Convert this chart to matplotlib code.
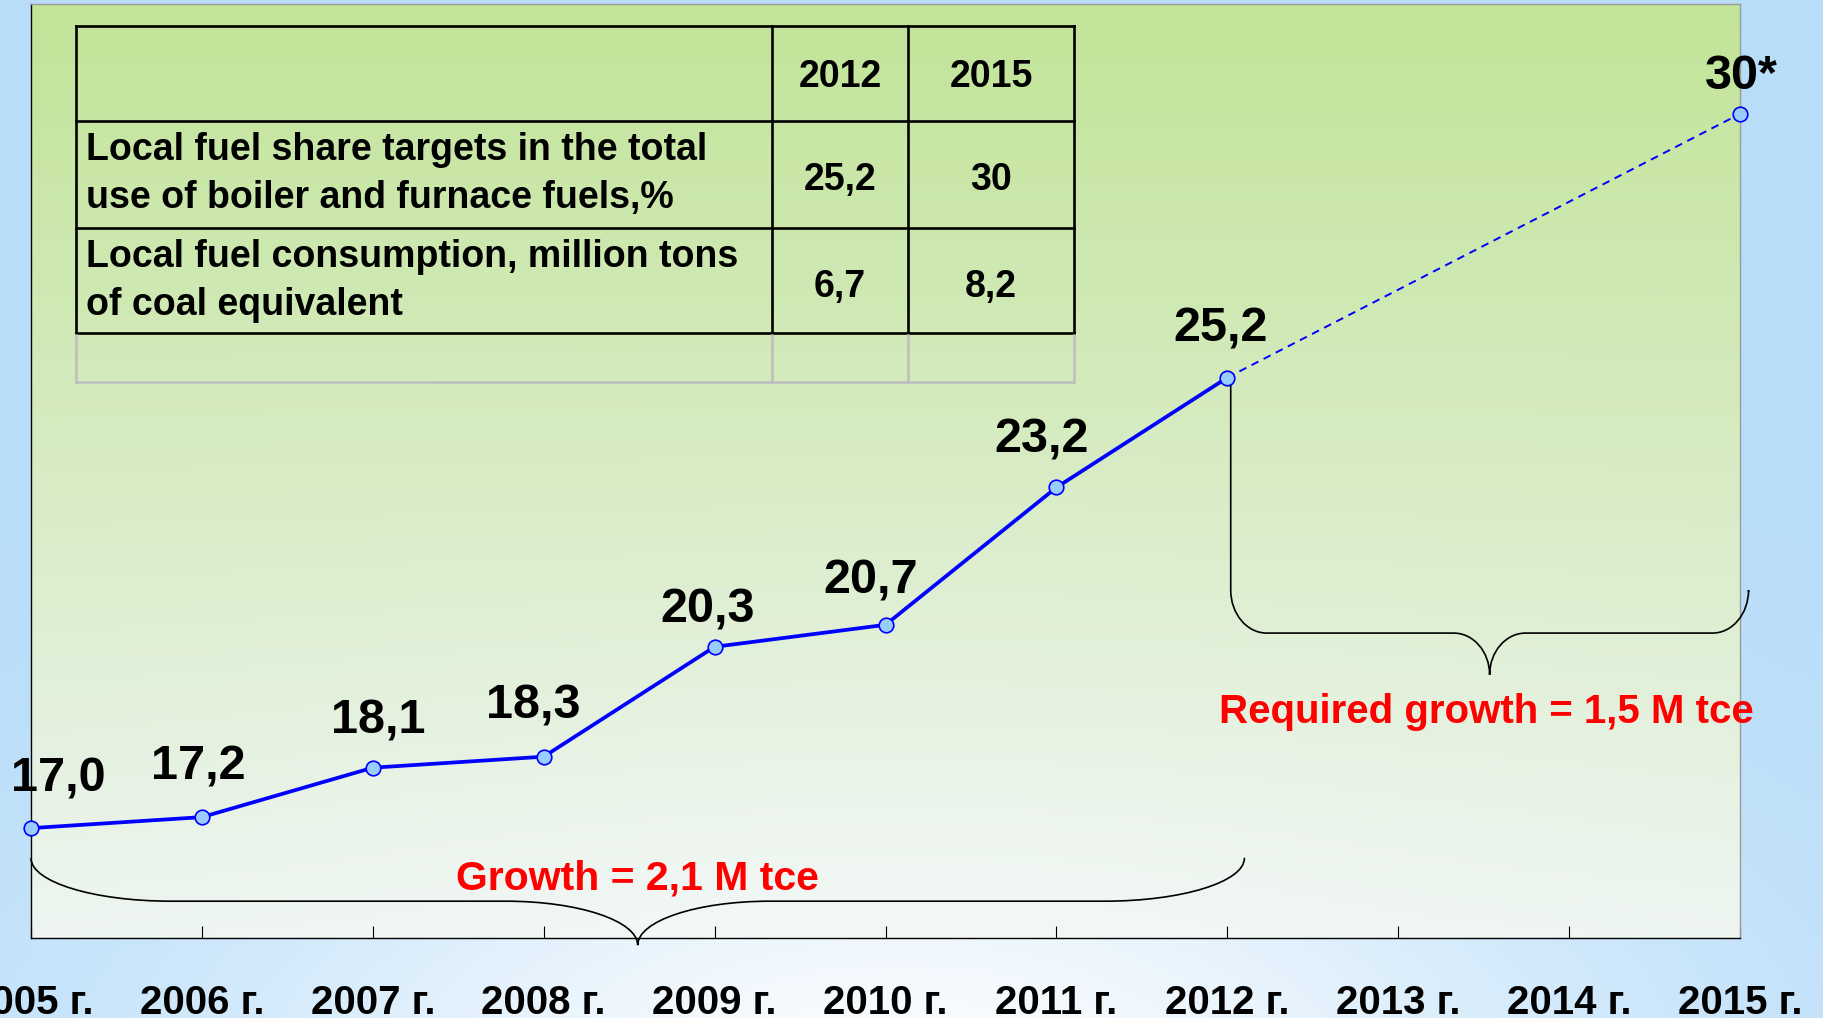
import numpy as np
import matplotlib
matplotlib.use("Agg")
import matplotlib.pyplot as plt
import matplotlib.transforms as mtransforms
from matplotlib.path import Path
from matplotlib.patches import PathPatch
from matplotlib.lines import Line2D

# ---- data ----
years = [2005, 2006, 2007, 2008, 2009, 2010, 2011, 2012]
share = [17.0, 17.2, 18.1, 18.3, 20.3, 20.7, 23.2, 25.2]
share_labels = ["17,0", "17,2", "18,1", "18,3", "20,3", "20,7", "23,2", "25,2"]
target_year = 2015
target_share = 30.0
target_label = "30*"

tick_years = list(range(2005, 2016))
tick_labels = [f"{y} г." for y in tick_years]

table_header = ["2012", "2015"]
table_row_names = [
    ["Local fuel share targets in the total", "use of boiler and furnace fuels,%"],
    ["Local fuel consumption, million tons", "of coal equivalent"],
]
table_values = [["25,2", "30"], ["6,7", "8,2"]]

growth_text = "Growth = 2,1 M tce"
required_text = "Required growth = 1,5 M tce"

# label nudges in pixels (dx, baseline above point)
label_offsets = [(27, 37), (-4, 38), (5, 34), (-10, 38), (-7, 24),
                 (-15, 31), (-15, 35), (-7, 36)]
target_offset = (1, 25)

W, H = 1823, 1018
PX2PT = 72 / 100

plt.rcParams["font.family"] = ["Liberation Sans", "DejaVu Sans"]
plt.rcParams["font.weight"] = "bold"

fig = plt.figure(figsize=(W / 100, H / 100), dpi=100)

# pixel coords (origin top-left) -> figure
px = mtransforms.Affine2D().scale(1 / W, -1 / H).translate(0, 1) + fig.transFigure

# ---- slide background: light blue with a white glow at the bottom ----
yy, xx = np.mgrid[0:H, 0:W].astype(float)
glow = np.exp(-1.3 * (((xx - 900) / 820) ** 2 + ((yy - 1080) / 380) ** 2))[..., None]
blue = np.array([184, 221, 249]) / 255
white = np.array([250, 252, 254]) / 255
bg_img = blue * (1 - glow) + white * glow

bg = fig.add_axes((0, 0, 1, 1), zorder=-10)
bg.imshow(bg_img, aspect="auto", interpolation="bilinear")
bg.axis("off")

# ---- plot area ----
left, right, top, bottom = 31, 1740, 4, 938
ax = fig.add_axes((left / W, 1 - bottom / H, (right - left) / W, (bottom - top) / H))

t = ((yy[top:bottom, left:right] - top) / (bottom - top))[..., None]
green_top = np.array([194, 228, 152]) / 255
pale_bottom = np.array([236, 244, 240]) / 255
ax_img = green_top * (1 - t) + pale_bottom * t
g = 0.6 * glow[top:bottom, left:right]
ax_img = ax_img * (1 - g) + white * g
ax.imshow(ax_img, extent=(2005, 2015, 15, 32), aspect="auto", origin="upper",
          interpolation="bilinear", zorder=0)

ax.set_xlim(2005, 2015)
ax.set_ylim(15, 32)
ax.set_yticks([])
ax.set_xticks(tick_years, labels=tick_labels)
ax.tick_params(axis="x", direction="in", length=8.6, width=0.8, pad=33,
               labelsize=29, color="black")
for spine in ["left", "bottom"]:
    ax.spines[spine].set_color("black")
    ax.spines[spine].set_linewidth(1.0)
for spine in ["top", "right"]:
    ax.spines[spine].set_color("#9a9a9a")
    ax.spines[spine].set_linewidth(1.0)

# ---- series ----
ax.plot([years[-1], target_year], [share[-1], target_share], color="#0000ff",
        lw=1.4, ls=(0, (4, 3)), zorder=4, clip_on=False)
ax.plot(years, share, color="#0000ff", lw=2.7, marker="o", ms=10.5,
        mfc="#99ccff", mec="#0000ff", mew=1.2, zorder=6, clip_on=False)
ax.plot([target_year], [target_share], ls="none", marker="o", ms=10.5,
        mfc="#99ccff", mec="#0000ff", mew=1.2, zorder=6, clip_on=False)

for x, y, lbl, (dx, dy) in zip(years, share, share_labels, label_offsets):
    ax.annotate(lbl, (x, y), xytext=(dx * PX2PT, dy * PX2PT), textcoords="offset points",
                ha="center", va="baseline", fontsize=35, fontweight="bold", zorder=7)
ax.annotate(target_label, (target_year, target_share),
            xytext=(target_offset[0] * PX2PT, target_offset[1] * PX2PT),
            textcoords="offset points", ha="center", va="baseline",
            fontsize=35, fontweight="bold", zorder=7, annotation_clip=False)


# ---- curly braces ----
def brace(x0, x1, y_left, y_right, y_mid, y_tip, cw, ch, tw):
    k = 0.552
    xm = (x0 + x1) / 2
    verts = [
        (x0, y_left), (x0, y_mid + ch),
        (x0, y_mid + ch - k * ch), (x0 + cw - k * cw, y_mid), (x0 + cw, y_mid),
        (xm - tw, y_mid),
        (xm - tw + k * tw, y_mid), (xm, y_tip + k * (y_mid - y_tip)), (xm, y_tip),
        (xm, y_tip + k * (y_mid - y_tip)), (xm + tw - k * tw, y_mid), (xm + tw, y_mid),
        (x1 - cw, y_mid),
        (x1 - cw + k * cw, y_mid), (x1, y_mid + ch - k * ch), (x1, y_mid + ch),
        (x1, y_right),
    ]
    codes = ([Path.MOVETO, Path.LINETO] + [Path.CURVE4] * 3 + [Path.LINETO]
             + [Path.CURVE4] * 6 + [Path.LINETO] + [Path.CURVE4] * 3 + [Path.LINETO])
    return PathPatch(Path(verts, codes), fill=False, ec="black", lw=1.2,
                     clip_on=False, zorder=3)


# pixel sizes expressed in data units
xu = (right - left) / 10
yu = (bottom - top) / 17

ax.add_patch(brace(years[0], 2012.10, 16.46, 16.46, 15.67, 14.87,
                   140 / xu, 43 / yu, 132 / xu))
ax.add_patch(brace(2012.02, 2015.05, share[-1], 21.3, 20.55, 19.79,
                   36 / xu, 43 / yu, 36 / xu))

ax.text((years[0] + 2012.10) / 2, 15.89, growth_text, color="#ff0000",
        fontsize=29.5, fontweight="bold", ha="center", va="baseline", zorder=7)
ax.text((2012.02 + 2015.05) / 2 - 0.02, 18.91, required_text, color="#ff0000",
        fontsize=29, fontweight="bold", ha="center", va="baseline", zorder=7,
        clip_on=False)

# ---- table in the upper left ----
col_x = [76, 772, 908, 1074]
row_y = [26, 121, 228, 333]
grey_y = 382

for y in row_y:
    fig.add_artist(Line2D([col_x[0], col_x[-1]], [y, y], transform=px,
                          color="black", lw=1.9, solid_capstyle="projecting"))
for x in col_x:
    fig.add_artist(Line2D([x, x], [row_y[0], row_y[-1]], transform=px,
                          color="black", lw=1.9, solid_capstyle="projecting"))
    fig.add_artist(Line2D([x, x], [row_y[-1] + 2, grey_y], transform=px,
                          color="#bdbdbd", lw=1.8))
fig.add_artist(Line2D([col_x[0], col_x[-1]], [grey_y, grey_y], transform=px,
                      color="#bdbdbd", lw=1.8))

col_centers = [(col_x[1] + col_x[2]) / 2, (col_x[2] + col_x[3]) / 2]
for cx, txt in zip(col_centers, table_header):
    fig.text(cx, 87, txt, transform=px, ha="center", va="baseline",
             fontsize=27, fontweight="bold")

name_baselines = [(160, 208), (267, 315)]
value_baselines = [190, 297]
for names, vals, bl, vb in zip(table_row_names, table_values, name_baselines, value_baselines):
    for line, y in zip(names, bl):
        fig.text(86, y, line, transform=px, ha="left", va="baseline",
                 fontsize=27, fontweight="bold")
    for cx, v in zip(col_centers, vals):
        fig.text(cx, vb, v, transform=px, ha="center", va="baseline",
                 fontsize=27, fontweight="bold")

fig.savefig("out.png", dpi=100)
